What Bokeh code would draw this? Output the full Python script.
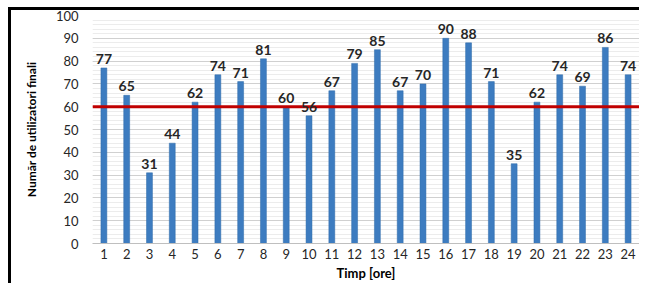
from bokeh.plotting import figure
from bokeh.models import ColumnDataSource, Span, LabelSet, FixedTicker, Range1d, InlineStyleSheet
from bokeh.core.properties import value
from bokeh.embed import file_html
from bokeh.resources import INLINE

hours = [str(i) for i in range(1, 25)]
users = [77, 65, 31, 44, 62, 74, 71, 81, 60, 56, 67, 79, 85, 67, 70, 90, 88, 71, 35, 62, 74, 69, 86, 74]
threshold = 60
y_ticks = list(range(0, 101, 10))

FONT = "Lato"
W, H = 639, 283

src = ColumnDataSource(dict(x=hours, y=users, lbl=[str(v) for v in users]))

p = figure(x_range=hours, y_range=Range1d(0, 100), width=W, height=H,
           output_backend="svg", toolbar_location=None,
           min_border_left=92, min_border_right=0, min_border_top=15, min_border_bottom=10)
p.outline_line_color = None
p.background_fill_color = "white"
p.border_fill_color = None

# outer chart border (top and left sides) painted behind the transparent canvas border area
bg = ("background: linear-gradient(#000,#000) 8px 7px / 3px 100% no-repeat, "
      "linear-gradient(#000,#000) 8px 7px / 100% 3px no-repeat, #fff;")
p.stylesheets = [InlineStyleSheet(css=":host { " + bg + " } .bk-Canvas { " + bg + " }")]

p.vbar(x="x", top="y", width=0.26, source=src, fill_color="#3d7cc0", line_color="#2f6aa8", line_width=0.5)

p.add_layout(Span(location=threshold, dimension="width", line_color="#c00000", line_width=3))

labels = LabelSet(x="x", y="y", text="lbl", source=src, text_align="center", text_baseline="bottom",
                  y_offset=4, text_font=value(FONT), text_font_style="bold", text_font_size="14px",
                  text_color="#262626")
p.add_layout(labels)

p.yaxis.ticker = FixedTicker(ticks=y_ticks, minor_ticks=list(range(0, 101, 2)))
p.ygrid.grid_line_color = "#d0d0d0"
p.ygrid.minor_grid_line_color = "#ececec"
p.xgrid.grid_line_color = None

for ax in (p.xaxis, p.yaxis):
    ax.axis_line_color = None
    ax.major_tick_line_color = None
    ax.minor_tick_line_color = None
    ax.major_tick_out = 0
    ax.minor_tick_out = 0
    ax.major_label_text_font = FONT
    ax.major_label_text_font_size = "13px"
    ax.major_label_text_color = "#262626"
    ax.axis_label_text_font = FONT
    ax.axis_label_text_font_style = "bold"
    ax.axis_label_text_color = "#000000"

p.xaxis.axis_line_color = "#bfbfbf"
p.xaxis.major_label_standoff = 5
p.xaxis.axis_label = "Timp [ore]"
p.xaxis.axis_label_text_font_size = "13px"
p.xaxis.axis_label_standoff = 3
p.yaxis.axis_label = "Număr de utilizatori finali"
p.yaxis.axis_label_text_font_size = "12px"
p.yaxis.major_label_standoff = 14
p.yaxis.axis_label_standoff = 14

open("out.html", "w").write(file_html(p, INLINE))
